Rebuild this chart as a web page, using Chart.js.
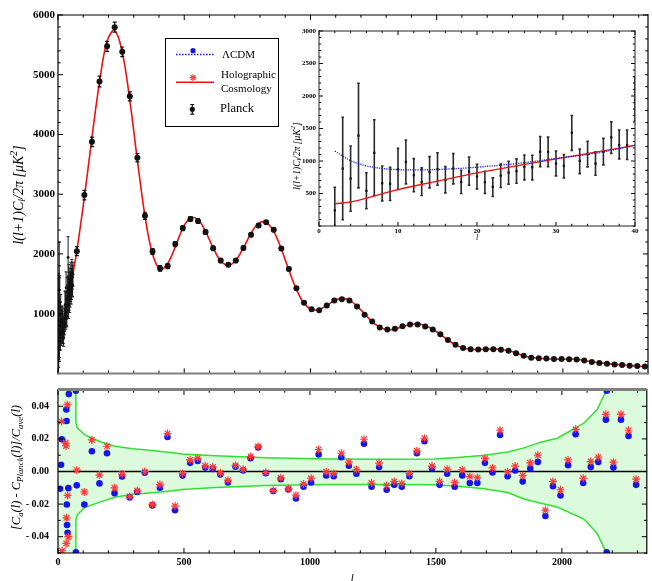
<!DOCTYPE html>
<html>
<head>
<meta charset="utf-8">
<script src="https://cdn.jsdelivr.net/npm/chart.js@4.4.1/dist/chart.umd.min.js"></script>
<style>
  body { margin: 0; background: #fff; }
  #wrap { position: relative; width: 652px; height: 581px; overflow: hidden; background: #fff; }
  canvas { position: absolute; }
  #top { left: 0; top: 0; }
  #bottom { left: 0; top: 375px; }
  #inset { left: 290px; top: 20px; background: #fff; }
</style>
</head>
<body>
<div id="wrap">
  <canvas id="top" width="652" height="383"></canvas>
  <canvas id="bottom" width="652" height="206"></canvas>
  <canvas id="inset" width="355" height="232"></canvas>
</div>
<script>
const SERIF = '"Liberation Serif", "DejaVu Serif", serif';

// low multipoles (unbinned), value and error bar ends
const lowL  = [2, 3, 4, 5, 6, 7, 8, 9, 10, 11, 12, 13, 14, 15, 16, 17, 18, 19, 20, 21, 22, 23, 24, 25, 26, 27, 28, 29, 30,
               31, 32, 33, 34, 35, 36, 37, 38, 39, 40, 41, 42, 43, 44, 45, 46, 47, 48, 49, 50, 51, 52, 53, 54, 55, 56, 57, 58, 59];
const lowV  = [239, 883, 730, 1390, 541, 1124, 659, 648, 873, 986, 781, 674, 832, 873, 710, 883, 679, 837, 761, 674, 602, 776, 822, 843, 909, 904, 1143, 1138, 960,
               924, 1435, 1001, 1108, 960, 1143, 1363, 1246, 1241, 1941, 1390, 1150, 1580, 1290, 1460, 1240, 1530, 1330, 1480, 1410, 1640, 1370, 1550, 1440, 1700, 1490, 1610, 1470, 1660];
const lowLo = [-60, 96, 226, 587, 265, 469, 387, 393, 561, 648, 526, 469, 587, 628, 510, 648, 500, 628, 571, 500, 454, 592, 643, 658, 710, 710, 914, 914, 771,
               740, 1164, 806, 909, 781, 940, 1118, 1032, 1022, 1619, 1150, 920, 1340, 1060, 1230, 1020, 1300, 1110, 1260, 1200, 1420, 1160, 1340, 1240, 1490, 1290, 1410, 1280, 1460];
const lowHi = [597, 1674, 1230, 2196, 820, 1635, 924, 904, 1195, 1323, 1037, 894, 1067, 1128, 914, 1113, 858, 1061, 950, 843, 740, 955, 996, 1032, 1093, 1088, 1378, 1368, 1154,
               1099, 1700, 1185, 1302, 1143, 1348, 1603, 1476, 1476, 2289, 1630, 1380, 1820, 1520, 1690, 1460, 1760, 1550, 1700, 1620, 1860, 1580, 1760, 1640, 1910, 1690, 1810, 1660, 1860];

// binned Planck points
const binL = [74.5, 104.5, 134.5, 164.5, 194.5, 224.5, 254.5, 284.5, 314.5, 344.5, 374.5, 404.5, 434.5, 464.5, 494.5, 524.5, 554.5, 584.5, 614.5, 644.5,
              674.5, 704.5, 734.5, 764.5, 794.5, 824.5, 854.5, 884.5, 914.5, 944.5, 974.5, 1004.5, 1034.5, 1064.5, 1094.5, 1124.5, 1154.5, 1184.5, 1214.5, 1244.5,
              1274.5, 1304.5, 1334.5, 1364.5, 1394.5, 1424.5, 1454.5, 1484.5, 1514.5, 1544.5, 1574.5, 1604.5, 1634.5, 1664.5, 1694.5, 1724.5, 1754.5, 1784.5, 1814.5, 1844.5,
              1874.5, 1904.5, 1934.5, 1964.5, 1994.5, 2024.5, 2054.5, 2084.5, 2114.5, 2144.5, 2174.5, 2204.5, 2234.5, 2264.5, 2294.5, 2324.5];
const binV = [2046, 2985, 3877, 4888, 5475, 5796, 5384, 4639, 3611, 2638, 2041, 1758, 1797, 2165, 2433, 2584, 2552, 2367, 2095, 1888,
              1818, 1888, 2100, 2323, 2475, 2530, 2405, 2090, 1748, 1427, 1182, 1073, 1057, 1138, 1220, 1242, 1220, 1122, 982, 867,
              770, 737, 747, 791, 818, 818, 786, 737, 655, 558, 481, 427, 404, 399, 404, 404, 395, 378, 339, 297,
              264, 253, 248, 241, 241, 236, 232, 215, 192, 176, 160, 150, 139, 127, 122, 117];
const binErr = [75, 80, 80, 90, 85, 85, 80, 75, 70, 60, 50, 45, 42, 42, 42, 40, 40, 38, 36, 34,
                32, 32, 32, 32, 32, 30, 30, 28, 26, 24, 22, 20, 20, 20, 20, 20, 20, 19, 18, 17,
                16, 16, 16, 16, 16, 16, 16, 15, 15, 14, 14, 13, 13, 13, 13, 13, 13, 13, 12, 12,
                12, 12, 12, 12, 12, 12, 12, 12, 12, 12, 12, 12, 12, 12, 12, 12];

// holographic model curve
const holoL = [2, 4, 6, 10, 15, 20, 25, 30, 35, 40, 50, 60,
               74.5, 104.5, 134.5, 164.5, 194.5, 224.5, 254.5, 284.5, 314.5, 344.5, 374.5, 404.5, 434.5, 464.5, 494.5, 524.5, 554.5, 584.5, 614.5, 644.5,
               674.5, 704.5, 734.5, 764.5, 794.5, 824.5, 854.5, 884.5, 914.5, 944.5, 974.5, 1004.5, 1034.5, 1064.5, 1094.5, 1124.5, 1154.5, 1184.5, 1214.5, 1244.5,
               1274.5, 1304.5, 1334.5, 1364.5, 1394.5, 1424.5, 1454.5, 1484.5, 1514.5, 1544.5, 1574.5, 1604.5, 1634.5, 1664.5, 1694.5, 1724.5, 1754.5, 1784.5, 1814.5, 1844.5,
               1874.5, 1904.5, 1934.5, 1964.5, 1994.5, 2024.5, 2054.5, 2084.5, 2114.5, 2144.5, 2174.5, 2204.5, 2234.5, 2264.5, 2294.5, 2324.5, 2340];
const holoV = [341, 370, 428, 561, 690, 817, 925, 1032, 1135, 1241, 1450, 1690,
               2048, 2948, 3952, 4877, 5560, 5738, 5375, 4568, 3568, 2638, 2000, 1744, 1839, 2119, 2430, 2602, 2573, 2375, 2101, 1886,
               1808, 1895, 2103, 2344, 2513, 2528, 2377, 2082, 1729, 1406, 1173, 1069, 1071, 1138, 1218, 1256, 1227, 1123, 1001, 861,
               774, 731, 742, 785, 817, 828, 802, 739, 651, 559, 478, 427, 403, 398, 407, 405, 405, 378, 340, 296,
               265, 256, 242, 240, 238, 238, 238, 214, 193, 178, 165, 151, 144, 130, 121, 117, 115];

// LambdaCDM curve at low l (identical to the model further up)
const lcdmL = [2, 3, 4, 5, 6, 8, 10, 12, 15, 18, 20, 25, 30, 35, 40];
const lcdmV = [1153, 1075, 1005, 960, 925, 885, 868, 863, 870, 888, 905, 960, 1040, 1120, 1245];

// residuals at the binned multipoles
const resLCDM = [-0.0085, -0.0202, 0.0124, -0.0073, 0.0112, -0.0133, -0.0031, -0.0159, -0.0125, -0.0008, -0.0208, -0.0100, 0.0212, -0.0237, -0.0025, 0.0053, 0.0065, 0.0024, 0.0016, -0.0018,
                 -0.0067, 0.0029, 0.0006, 0.0082, 0.0147, -0.0010, -0.0120, -0.0047, -0.0110, -0.0165, -0.0094, -0.0067, 0.0104, -0.0024, -0.0029, 0.0088, 0.0035, -0.0014, 0.0171, -0.0094,
                 0.0027, -0.0112, -0.0082, -0.0094, -0.0029, 0.0112, 0.0186, 0.0018, -0.0082, -0.0014, -0.0094, -0.0024, -0.0071, -0.0071, 0.0053, -0.0006, 0.0224, -0.0029, 0.0006, -0.0061,
                 0.0018, 0.0059, -0.0273, -0.0090, -0.0147, 0.0039, 0.0229, -0.0071, 0.0027, 0.0059, 0.0318, 0.0024, 0.0318, 0.0218, -0.0082, null];
const resHolo = [0.0008, -0.0125, 0.0194, -0.0022, 0.0155, -0.0100, -0.0016, -0.0153, -0.0118, 0.0000, -0.0202, -0.0080, 0.0233, -0.0212, -0.0012, 0.0071, 0.0082, 0.0035, 0.0027, -0.0008,
                 -0.0053, 0.0037, 0.0014, 0.0092, 0.0153, -0.0006, -0.0116, -0.0039, -0.0106, -0.0145, -0.0076, -0.0041, 0.0135, -0.0002, -0.0012, 0.0112, 0.0057, 0.0012, 0.0198, -0.0071,
                 0.0051, -0.0086, -0.0061, -0.0073, -0.0012, 0.0127, 0.0204, 0.0033, -0.0061, 0.0014, -0.0067, 0.0010, -0.0031, -0.0037, 0.0080, 0.0022, 0.0253, -0.0002, 0.0033, -0.0025,
                 0.0053, 0.0100, -0.0237, -0.0061, -0.0112, 0.0071, 0.0259, -0.0041, 0.0061, 0.0088, 0.0351, 0.0057, 0.0351, 0.0253, -0.0047, null];
// residuals at low l
const lowResLcdmL = [8, 12, 15, 33, 34, 35, 36, 38, 41, 43];
const lowResLcdm  = [-0.0106, 0.0041, 0.0198, 0.038, 0.031, -0.0202, -0.0328, -0.0376, -0.0102, 0.0475];
const lowResHoloL = [14, 16, 30, 32, 33, 34, 37, 38, 41];
const lowResHolo  = [0.0306, -0.0486, 0.0176, 0.0157, -0.0441, -0.0284, 0.041, -0.0147, -0.040];
const edgeL = [71, 71, 2178, 2178];
const edgeV = [0.0495, -0.0495, 0.0495, -0.0495];

// error band
const bandL  = [2, 70, 71, 76, 107, 166, 225, 297, 363, 429, 494, 626, 824, 1074, 1298, 1495, 1600, 1692, 1785, 1850, 1916, 1982, 2087, 2140, 2177, 2200, 2340];
const bandUp = [0.5, 0.5, 0.030, 0.027, 0.0224, 0.0184, 0.0155, 0.0139, 0.0131, 0.0120, 0.0108, 0.0096, 0.0084, 0.0076, 0.0075, 0.0076, 0.0088, 0.0100, 0.0120, 0.0145, 0.0180, 0.0204, 0.0296, 0.0380, 0.0500, 0.08, 0.5];
const bandLo = [-0.5, -0.5, -0.030, -0.0267, -0.0220, -0.0188, -0.0158, -0.0140, -0.0132, -0.0122, -0.0110, -0.0098, -0.0086, -0.0080, -0.0080, -0.0082, -0.0092, -0.0106, -0.0129, -0.0169, -0.0195, -0.0218, -0.0292, -0.0380, -0.0500, -0.08, -0.5];

// ticks
const xTicks = [0, 500, 1000, 1500, 2000];
const mainYTicks = [1000, 2000, 3000, 4000, 5000, 6000];
const residYTicks = [-0.04, -0.02, 0, 0.02, 0.04];
const residYLabels = ['- 0.04', '- 0.02', '0.00', '0.02', '0.04'];
const insetXTicks = [0, 10, 20, 30, 40];
const insetYTicks = [500, 1000, 1500, 2000, 2500, 3000];

const RED = '#ee1111', BLUE = '#1414f0', STAR = '#ff3a3a', GREEN = '#30e030';

function pts(xs, ys) {
  return xs.map((x, i) => ({x: x, y: ys[i]})).filter(p => p.y !== null);
}

Chart.defaults.font.family = SERIF;
Chart.defaults.color = '#000';

// vertical error bars, drawn just before the points of a dataset
Chart.register({
  id: 'errorBars',
  beforeDatasetDraw(chart, args) {
    const ds = chart.data.datasets[args.index];
    if (!ds.errLo) return;
    const {ctx, chartArea: a, scales: {x, y}} = chart;
    ctx.save();
    ctx.beginPath(); ctx.rect(a.left, a.top, a.width, a.height); ctx.clip();
    ctx.strokeStyle = ds.errColor; ctx.lineWidth = ds.errWidth;
    ctx.beginPath();
    ds.data.forEach((p, i) => {
      const px = x.getPixelForValue(p.x);
      const y1 = y.getPixelForValue(ds.errLo[i]), y2 = y.getPixelForValue(ds.errHi[i]);
      ctx.moveTo(px, y1); ctx.lineTo(px, y2);
      ctx.moveTo(px - ds.capW, y1); ctx.lineTo(px + ds.capW, y1);
      ctx.moveTo(px - ds.capW, y2); ctx.lineTo(px + ds.capW, y2);
    });
    ctx.stroke();
    ctx.restore();
  }
});

function stepsIn(min, max, step) {
  const out = [];
  for (let i = Math.ceil(min / step - 1e-6); i * step <= max + 1e-9; i++) out.push(+(i * step).toFixed(6));
  return out;
}

// Mathematica style frame with inward ticks on all sides
function framePlugin(o) {
  return {
    id: 'frame',
    beforeDatasetsDraw(chart) {
      if (!o.zero) return;
      const {ctx, chartArea: a, scales: {y}} = chart;
      const py = y.getPixelForValue(0);
      ctx.save();
      ctx.strokeStyle = '#000'; ctx.lineWidth = 1.6;
      ctx.beginPath(); ctx.moveTo(a.left, py); ctx.lineTo(a.right, py); ctx.stroke();
      ctx.restore();
    },
    afterDatasetsDraw(chart) {
      const {ctx, chartArea: a, scales: {x, y}} = chart;
      ctx.save();
      ctx.strokeStyle = '#000'; ctx.lineWidth = 1;
      ctx.beginPath();
      stepsIn(x.min, x.max, o.xMinor).forEach(v => {
        const len = o.xMajor.includes(v) ? o.len : o.len * 0.55;
        const p = x.getPixelForValue(v);
        ctx.moveTo(p, a.bottom); ctx.lineTo(p, a.bottom - len);
        ctx.moveTo(p, a.top); ctx.lineTo(p, a.top + len);
      });
      stepsIn(y.min, y.max, o.yMinor).forEach(v => {
        const len = o.yMajor.includes(v) ? o.len : o.len * 0.55;
        const p = y.getPixelForValue(v);
        ctx.moveTo(a.left, p); ctx.lineTo(a.left + len, p);
        ctx.moveTo(a.right, p); ctx.lineTo(a.right - len, p);
      });
      ctx.stroke();
      const edge = (e, x1, y1, x2, y2) => {
        ctx.strokeStyle = e[0]; ctx.lineWidth = e[1];
        ctx.beginPath(); ctx.moveTo(x1, y1); ctx.lineTo(x2, y2); ctx.stroke();
      };
      edge(o.edges.left, a.left, a.top - 1, a.left, a.bottom + 1);
      edge(o.edges.right, a.right, a.top - 1, a.right, a.bottom + 1);
      edge(o.edges.top, a.left, a.top - (o.edges.top[1] > 2 ? 0.5 : 0), a.right, a.top - (o.edges.top[1] > 2 ? 0.5 : 0));
      edge(o.edges.bottom, a.left, a.bottom, a.right, a.bottom);
      ctx.restore();
      if (o.after) o.after(chart.ctx, chart);
    }
  };
}

// rotated axis title with sub/superscripts
function drawRich(ctx, x, y, parts, size) {
  ctx.save();
  ctx.translate(x, y);
  ctx.rotate(-Math.PI / 2);
  const fonts = parts.map(p => p[1] === 'n' ? `italic ${size}px ${SERIF}` : `italic ${(size * 0.7).toFixed(1)}px ${SERIF}`);
  let total = 0;
  parts.forEach((p, i) => { ctx.font = fonts[i]; total += ctx.measureText(p[0]).width; });
  let cx = -total / 2;
  ctx.fillStyle = '#000'; ctx.textBaseline = 'middle';
  parts.forEach((p, i) => {
    ctx.font = fonts[i];
    const dy = p[1] === 'sub' ? size * 0.28 : p[1] === 'sup' ? -size * 0.35 : 0;
    ctx.fillText(p[0], cx, dy);
    cx += ctx.measureText(p[0]).width;
  });
  ctx.restore();
}
const clTitle = [['l(l+1)C', 'n'], ['l', 'sub'], ['/2π [μK', 'n'], ['2', 'sup'], [']', 'n']];

function drawStar(ctx, x, y, r, color) {
  ctx.save();
  ctx.strokeStyle = color; ctx.lineWidth = 1.2;
  ctx.beginPath();
  for (let k = 0; k < 4; k++) {
    const t = k * Math.PI / 4;
    ctx.moveTo(x - r * Math.cos(t), y - r * Math.sin(t));
    ctx.lineTo(x + r * Math.cos(t), y + r * Math.sin(t));
  }
  ctx.stroke();
  ctx.restore();
}
function drawDot(ctx, x, y, r, color) {
  ctx.fillStyle = color;
  ctx.beginPath(); ctx.arc(x, y, r, 0, 2 * Math.PI); ctx.fill();
}

function drawLegend(ctx) {
  ctx.save();
  ctx.fillStyle = '#fff'; ctx.fillRect(165, 38, 114, 89);
  ctx.strokeStyle = '#000'; ctx.lineWidth = 1; ctx.strokeRect(165.5, 38.5, 113, 88);
  ctx.strokeStyle = BLUE; ctx.lineWidth = 1.4; ctx.setLineDash([1.5, 1.5]);
  ctx.beginPath(); ctx.moveTo(176, 54.5); ctx.lineTo(215, 54.5); ctx.stroke();
  ctx.setLineDash([]);
  drawDot(ctx, 193, 50.7, 2.6, BLUE);
  ctx.strokeStyle = RED; ctx.lineWidth = 1.6;
  ctx.beginPath(); ctx.moveTo(176, 82.3); ctx.lineTo(214, 82.3); ctx.stroke();
  drawStar(ctx, 193, 77.7, 3.4, STAR);
  ctx.strokeStyle = '#111'; ctx.lineWidth = 1.2;
  ctx.beginPath();
  ctx.moveTo(192.3, 104.5); ctx.lineTo(192.3, 114.2);
  ctx.moveTo(190.3, 104.5); ctx.lineTo(194.3, 104.5);
  ctx.moveTo(190.3, 114.2); ctx.lineTo(194.3, 114.2);
  ctx.stroke();
  drawDot(ctx, 192.3, 109.3, 2.6, '#111');
  ctx.fillStyle = '#000'; ctx.textBaseline = 'middle';
  ctx.font = `11px ${SERIF}`;
  ctx.fillText('ΛCDM', 222, 55);
  ctx.fillText('Holographic', 221, 75.5);
  ctx.fillText('Cosmology', 221, 89.5);
  ctx.font = `12.5px ${SERIF}`;
  ctx.fillText('Planck', 220, 108.5);
  ctx.restore();
}

function yAxis(min, max, list, width, pad, size, labels) {
  return {
    type: 'linear', min: min, max: max,
    afterFit: s => { s.width = width; },
    afterBuildTicks: s => { s.ticks = list.map(v => ({value: v})); },
    grid: {display: false, drawTicks: false},
    border: {display: false},
    ticks: {padding: pad, autoSkip: false, font: {size: size, weight: 'bold'}, color: '#000',
            callback: (v, i) => labels ? labels[i] : String(v)}
  };
}
function xAxis(min, max, list, height, pad, size, title) {
  return {
    type: 'linear', min: min, max: max,
    afterFit: s => { s.height = height; },
    afterBuildTicks: s => { s.ticks = list.map(v => ({value: v})); },
    grid: {display: false, drawTicks: false},
    border: {display: false},
    ticks: {padding: pad, autoSkip: false, maxRotation: 0, font: {size: size, weight: 'bold'}, color: '#000',
            callback: v => String(v)},
    title: title
  };
}
const common = {
  responsive: false, animation: false, events: [],
  plugins: {legend: {display: false}, tooltip: {enabled: false}}
};

// ---- main spectrum ----
new Chart(document.getElementById('top'), {
  type: 'line',
  data: {datasets: [
    {data: pts(binL, binV), showLine: false, order: 1,
     errLo: binV.map((v, i) => v - binErr[i]), errHi: binV.map((v, i) => v + binErr[i]),
     errColor: '#111', errWidth: 1.2, capW: 2,
     pointRadius: 3, pointBackgroundColor: '#111', pointBorderWidth: 0},
    {data: pts(lowL, lowV), showLine: false, order: 2,
     errLo: lowLo, errHi: lowHi, errColor: '#1a1a1a', errWidth: 1, capW: 1.5,
     pointRadius: 1.4, pointBackgroundColor: '#111', pointBorderWidth: 0},
    {data: pts(holoL, holoV), order: 3, borderColor: RED, borderWidth: 1.6, pointRadius: 0, tension: 0.4},
    {data: pts(lcdmL, lcdmV), order: 4, borderColor: BLUE, borderWidth: 1.3, borderDash: [1.5, 1.5], pointRadius: 0, tension: 0.4}
  ]},
  options: Object.assign({}, common, {
    layout: {padding: {left: 0, top: 15, right: 2, bottom: 1}},
    scales: {
      x: {type: 'linear', display: false, min: 0, max: 2337},
      y: yAxis(0, 6000, mainYTicks, 58, 3, 11)
    }
  }),
  plugins: [framePlugin({
    xMajor: xTicks, xMinor: 100, yMajor: mainYTicks, yMinor: 200, len: 5,
    edges: {left: ['#000', 1.2], right: ['#000', 1.2], top: ['#000', 1.2], bottom: ['#808080', 2]},
    after: ctx => { drawLegend(ctx); drawRich(ctx, 19, 195, clTitle, 14); }
  })]
});

// ---- residuals ----
new Chart(document.getElementById('bottom'), {
  type: 'line',
  data: {datasets: [
    {data: pts(bandL, bandUp), order: 10, fill: '+1', backgroundColor: '#dcfadc', borderColor: GREEN, borderWidth: 1.5, pointRadius: 0, tension: 0},
    {data: pts(bandL, bandLo), order: 11, fill: false, borderColor: GREEN, borderWidth: 1.5, pointRadius: 0, tension: 0},
    {data: pts(binL, resLCDM), showLine: false, order: 3, pointRadius: 3.3, pointBackgroundColor: BLUE, pointBorderWidth: 0},
    {data: pts(lowResLcdmL, lowResLcdm), showLine: false, order: 3, pointRadius: 3.3, pointBackgroundColor: BLUE, pointBorderWidth: 0},
    {data: pts(edgeL, edgeV), showLine: false, order: 3, pointRadius: 3.3, pointBackgroundColor: BLUE, pointBorderWidth: 0},
    {data: pts(binL, resHolo), showLine: false, order: 1, pointStyle: 'star', pointRadius: 4, pointBorderColor: STAR, pointBorderWidth: 1.2},
    {data: pts(lowResHoloL, lowResHolo), showLine: false, order: 1, pointStyle: 'star', pointRadius: 4, pointBorderColor: STAR, pointBorderWidth: 1.2}
  ]},
  options: Object.assign({}, common, {
    layout: {padding: {left: 0, top: 8, right: 2, bottom: 0}},
    plugins: {legend: {display: false}, tooltip: {enabled: false}, filler: {drawTime: 'beforeDatasetsDraw'}},
    scales: {
      x: xAxis(0, 2337, xTicks, 28, 3, 10,
               {display: true, text: 'l', padding: {top: 0, bottom: 0}, font: {size: 11, style: 'italic', lineHeight: 0.6}}),
      y: yAxis(-0.05, 0.05, residYTicks, 58, 9, 10, residYLabels)
    }
  }),
  plugins: [framePlugin({
    zero: true,
    xMajor: xTicks, xMinor: 100, yMajor: residYTicks, yMinor: 0.01, len: 5,
    edges: {left: ['#000', 1.2], right: ['#000', 1.2], top: ['#808080', 3], bottom: ['#000', 1.2]},
    after: ctx => drawRich(ctx, 17, 92.5, [['[C', 'n'], ['a', 'sub'], ['(l) - C', 'n'], ['Planck', 'sub'], ['(l)]/C', 'n'], ['ave', 'sub'], ['(l)', 'n']], 12.5)
  })]
});

// ---- inset, low multipoles ----
new Chart(document.getElementById('inset'), {
  type: 'line',
  data: {datasets: [
    {data: pts(lowL, lowV), showLine: false, order: 3,
     errLo: lowLo, errHi: lowHi, errColor: '#2a2a2a', errWidth: 1.6, capW: 1.3,
     pointStyle: 'rect', pointRadius: 1.6, pointBackgroundColor: '#111', pointBorderWidth: 0},
    {data: pts(holoL, holoV), order: 2, borderColor: RED, borderWidth: 1.3, pointRadius: 0, tension: 0.4},
    {data: pts(lcdmL, lcdmV), order: 1, borderColor: BLUE, borderWidth: 1.3, borderDash: [1.2, 1.2], pointRadius: 0, tension: 0.4}
  ]},
  options: Object.assign({}, common, {
    layout: {padding: {left: 0, top: 11, right: 10, bottom: 0}},
    scales: {
      x: xAxis(0, 40, insetXTicks, 26, 1, 7,
               {display: true, text: 'l', padding: {top: 0, bottom: 10}, font: {size: 8, style: 'italic', lineHeight: 1}}),
      y: yAxis(0, 3000, insetYTicks, 29, 3, 7)
    }
  }),
  plugins: [framePlugin({
    xMajor: insetXTicks, xMinor: 2, yMajor: insetYTicks, yMinor: 100, len: 4,
    edges: {left: ['#222', 1], right: ['#222', 1], top: ['#222', 1], bottom: ['#222', 1]},
    after: ctx => drawRich(ctx, 7, 136, clTitle, 9.5)
  })]
});
</script>
</body>
</html>
